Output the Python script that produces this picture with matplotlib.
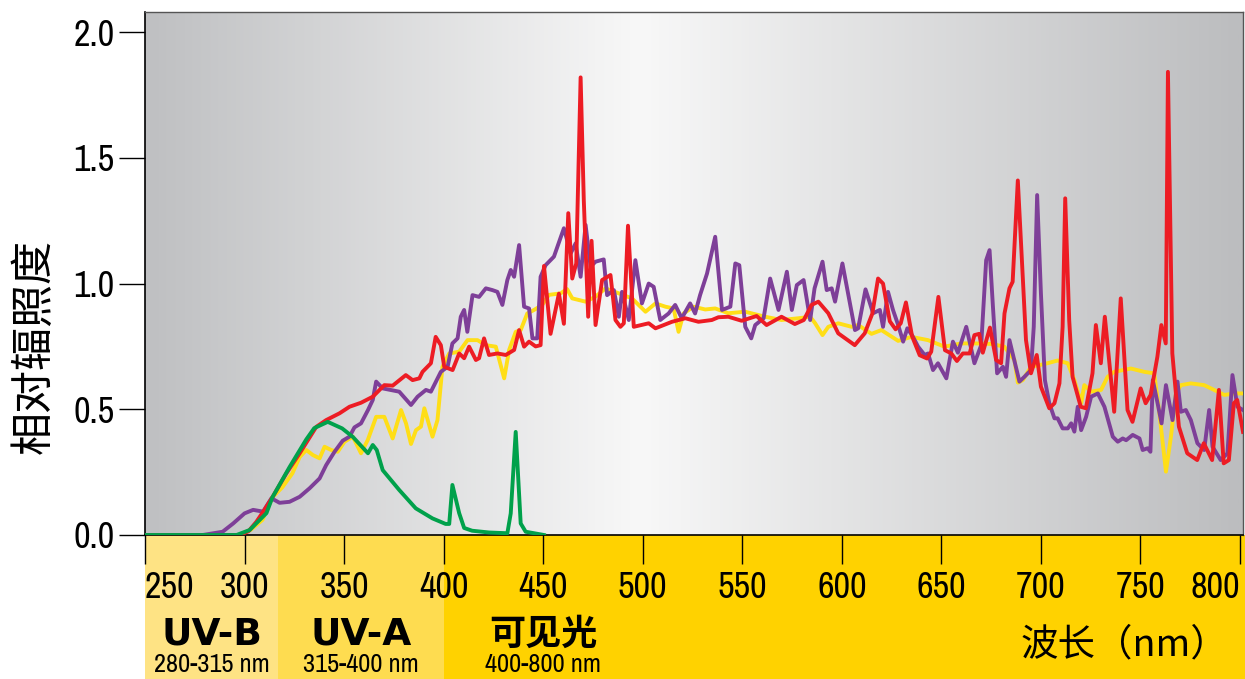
import numpy as np
import matplotlib
matplotlib.use('Agg')
import matplotlib.pyplot as plt
from matplotlib import font_manager as fm
from matplotlib.colors import LinearSegmentedColormap

# data (wavelength nm, relative irradiance)
sun_nm = [250, 297, 303, 309, 314, 319, 324, 327.7, 331, 334.3, 337.7, 340.2, 343.5, 346.8, 350.2, 354.4,
          358.5, 361.9, 366.1, 370.2, 374.4, 378.6, 381.1, 383.6, 386.1, 388.6, 390.3, 394.4, 396.9, 399.4,
          402.8, 407.8, 412, 417, 421.2, 426.2, 430.4, 432.9, 436.2, 438.7, 442, 445.4, 449.5, 452.9, 458.7,
          462, 464.6, 471.3, 476.3, 481.3, 488, 494.6, 501.4, 506.4, 511.4, 515.5, 518, 520.5, 525.5, 531.4,
          536.4, 543, 551.4, 561.5, 569.7, 578.2, 584.1, 586.6, 590.3, 593.2, 598.2, 604.9, 608.2, 614.9,
          619.9, 628.3, 634.9, 643.3, 651.6, 660, 666.6, 675, 681.6, 686.7, 688.4, 690.9, 695, 701.8, 708.4,
          713.5, 716.8, 720.2, 721.8, 725.2, 730.2, 733.5, 736.8, 745.2, 751.9, 756.9, 759.5, 762.8, 765.3,
          767.8, 770.3, 775.3, 782, 787, 792.1, 797.1, 801.5]
sun_val = [0, 0, 0.02, 0.06, 0.15, 0.19, 0.245, 0.31, 0.338, 0.318, 0.305, 0.351, 0.338, 0.331, 0.371, 0.391,
           0.325, 0.378, 0.47, 0.47, 0.384, 0.497, 0.444, 0.362, 0.417, 0.431, 0.504, 0.391, 0.457, 0.669,
           0.722, 0.729, 0.775, 0.775, 0.755, 0.749, 0.623, 0.736, 0.808, 0.815, 0.881, 0.895, 0.915, 0.955, 0.961,
           0.978, 0.941, 0.928, 0.948, 0.981, 0.961, 0.941, 0.888, 0.921, 0.908, 0.901, 0.808, 0.881, 0.908, 0.897,
           0.901, 0.882, 0.888, 0.868, 0.855, 0.862, 0.868, 0.842, 0.795, 0.828, 0.842, 0.828, 0.835, 0.8,
           0.815, 0.772, 0.788, 0.775, 0.749, 0.762, 0.762, 0.76, 0.749, 0.696, 0.606, 0.616, 0.669, 0.68, 0.694,
           0.683, 0.616, 0.524, 0.596, 0.57, 0.577, 0.629, 0.649, 0.662, 0.649, 0.643, 0.484, 0.252, 0.391,
           0.563, 0.596, 0.603, 0.596, 0.577, 0.557, 0.563, 0.563]

red_nm = [250, 297.6, 302, 306, 310, 314, 321, 327.7, 336, 341, 347.7, 352.7, 358.5, 364.4, 370.2, 374.4, 381,
          384.4, 387.8, 389.4, 393.6, 396, 398.6, 400.3, 404.5, 407.8, 410.3, 412.8, 416.2, 417.8, 420.3, 422.8,
          427, 431.2, 435.4, 437.9, 440.4, 442.9, 446.2, 448.7, 450.4, 453.7, 457.9, 460.4, 462.6, 464.6, 466.6,
          468.8, 470.4, 472.6, 474.3, 476.3, 479.6, 483.8, 486.3, 488.8, 490.5, 492.6, 495.5, 503, 506.4, 514.7,
          521.4, 528, 534.7, 538, 543, 549.7, 557.2, 562.2, 569.7, 576.4, 580.9, 584.8, 588.2, 593.2, 598.2,
          606.5, 611.5, 615.3, 618.2, 620.7, 624.1, 627, 629.6, 632.2, 635.3, 639.1, 642.8, 644.9, 648.5, 651.8,
          655, 657.8, 660.8, 664.2, 666.6, 669, 670.8, 674.4, 677.5, 680, 681.7, 684.2, 685.8, 688.4, 692.5,
          695, 697.9, 700, 704.2, 706.8, 709.3, 710.9, 712.2, 714.2, 715.9, 720, 722.6, 725.9, 727.6, 730.1,
          732.1, 736.8, 740.1, 743.5, 746, 750.1, 752.6, 755.1, 758.5, 760.5, 762.7, 763.8, 766, 769.3, 773.5,
          778.5, 781.8, 786, 789.4, 791.8, 794.4, 796.9, 798.6, 801.5]
red_val = [0, 0, 0.015, 0.053, 0.1, 0.15, 0.245, 0.325, 0.43, 0.457, 0.484, 0.51, 0.526, 0.55, 0.596, 0.594, 0.636,
           0.616, 0.623, 0.649, 0.683, 0.788, 0.755, 0.669, 0.656, 0.722, 0.703, 0.749, 0.696, 0.703, 0.782, 0.716,
           0.722, 0.716, 0.736, 0.815, 0.749, 0.769, 0.75, 0.755, 1.07, 0.80, 0.96, 0.84, 1.28, 1.02, 1.08,
           1.82, 1.33, 0.868, 1.17, 0.835, 1.014, 1.034, 0.855, 0.828, 0.842, 1.23, 0.828, 0.842, 0.822, 0.848,
           0.862, 0.848, 0.855, 0.866, 0.868, 0.852, 0.871, 0.835, 0.868, 0.839, 0.855, 0.915, 0.928, 0.882, 0.802,
           0.755, 0.802, 0.88, 1.02, 1.0, 0.85, 0.818, 0.842, 0.925, 0.79, 0.715, 0.702, 0.729, 0.947, 0.735,
           0.722, 0.692, 0.722, 0.722, 0.795, 0.80, 0.725, 0.825, 0.696, 0.683, 0.881, 0.981, 1.007, 1.41, 0.775,
           0.643, 0.716, 0.59, 0.504, 0.524, 0.603, 0.828, 1.339, 0.855, 0.629, 0.51, 0.504, 0.643, 0.835, 0.683,
           0.868, 0.49, 0.941, 0.497, 0.45, 0.583, 0.524, 0.557, 0.709, 0.835, 0.762, 1.842, 0.722, 0.431, 0.325,
           0.298, 0.365, 0.298, 0.577, 0.285, 0.298, 0.524, 0.537, 0.41]

purple_nm = [250, 279, 289, 294.3, 300, 304.3, 309.3, 313.5, 317.6, 322.6, 327.7, 332.7, 337.7, 341, 345.2, 349.3,
             352.7, 355.2, 358.5, 362, 364.4, 366.1, 369.4, 377.7, 383.6, 386.9, 391.1, 393.6, 398.6, 402, 404.4,
             407, 408.6, 410.3, 411.9, 414.5, 417.8, 421.2, 424.5, 427, 429.5, 432, 433.7, 435.4, 437.9, 440.4,
             442.9, 444.6, 447, 448.7, 451.2, 455.4, 460.4, 463.8, 466.3, 468.8, 471.3, 473.8, 476.3, 480.4, 482.1,
             485.5, 488, 489.6, 493, 496.3, 499.6, 503, 505.5, 508.8, 513, 516.3, 519.6, 523.8, 526.3, 528.8, 532.3,
             536.4, 539.8, 544, 546.5, 548.5, 551.5, 554.5, 556.5, 560.7, 564, 568.2, 572.4, 574.9, 577.4, 580.8,
             584.1, 586.3, 590.3, 592.4, 594.9, 596.6, 600.3, 606.6, 608.2, 611.9, 615.7, 619.1, 620.7, 623.2, 625.7,
             628.3, 630.8, 632.9, 635.7, 638.3, 641.6, 643.3, 645.8, 648.3, 652.5, 655.8, 658.3, 662.5, 666.6, 670,
             672.5, 674.2, 675.9, 678, 680.9, 682.5, 684.2, 685.8, 689.2, 691.7, 695, 696.4, 698.1, 700, 702, 704.2,
             706.8, 708.4, 710.9, 713.5, 715.2, 716.8, 718.5, 720.2, 722.7, 725.2, 728.6, 731.9, 736.1, 738.6, 741.1,
             742.8, 746.1, 749.5, 751.1, 753.6, 755, 756.2, 758.6, 760.6, 762.8, 766.1, 768.6, 770.3, 772.8, 775.3,
             778.6, 782, 784.5, 786.2, 790.3, 793.7, 796.2, 798.7, 801.5]
purple_val = [0, 0, 0.013, 0.046, 0.086, 0.1, 0.093, 0.146, 0.128, 0.132, 0.152, 0.186, 0.225, 0.278, 0.331, 0.375,
              0.391, 0.428, 0.444, 0.497, 0.537, 0.61, 0.583, 0.57, 0.517, 0.55, 0.577, 0.57, 0.649, 0.669, 0.762,
              0.782, 0.868, 0.895, 0.808, 0.954, 0.947, 0.981, 0.974, 0.967, 0.915, 1.014, 1.054, 1.027, 1.153, 0.908,
              0.901, 0.782, 0.782, 1.027, 1.073, 1.107, 1.22, 1.12, 1.16, 1.027, 1.233, 1.067, 1.087, 1.096, 0.954,
              0.974, 0.868, 0.967, 0.855, 1.093, 0.921, 1.0, 0.987, 0.855, 0.881, 0.915, 0.862, 0.921, 0.881, 0.954, 1.04,
              1.186, 0.895, 0.908, 1.08, 1.073, 0.828, 0.782, 0.835, 0.862, 1.02, 0.895, 1.047, 0.895, 0.994, 1.014,
              0.855, 0.981, 1.087, 0.974, 0.981, 0.928, 1.08, 0.815, 0.822, 0.977, 0.882, 0.895, 0.828, 0.967, 0.895,
              0.835, 0.769, 0.822, 0.789, 0.749, 0.716, 0.722, 0.656, 0.683, 0.623, 0.769, 0.725, 0.828, 0.683, 0.755,
              1.093, 1.133, 0.908, 0.643, 0.669, 0.629, 0.775, 0.722, 0.61, 0.629, 0.656, 0.828, 1.352, 0.961, 0.616, 0.524,
              0.464, 0.464, 0.424, 0.424, 0.444, 0.411, 0.51, 0.417, 0.47, 0.55, 0.563, 0.51, 0.391, 0.371, 0.384,
              0.377, 0.398, 0.384, 0.338, 0.345, 0.331, 0.616, 0.524, 0.444, 0.596, 0.457, 0.61, 0.49, 0.497, 0.457,
              0.365, 0.338, 0.497, 0.351, 0.298, 0.325, 0.636, 0.51, 0.497]

green_nm = [250, 296, 302.6, 311, 314, 322.6, 331, 335, 341.8, 349, 354.4, 362, 364.4, 366.4, 369.4, 377.7, 386,
            394.4, 401, 402.8, 404.4, 407.8, 410.3, 414.3, 422.8, 432, 433.7, 436.2, 438.7, 441.2, 450.4]
green_val = [0, 0, 0.02, 0.087, 0.15, 0.27, 0.38, 0.425, 0.45, 0.424, 0.39, 0.325, 0.358, 0.338, 0.258, 0.179, 0.106,
             0.066, 0.044, 0.044, 0.199, 0.087, 0.028, 0.017, 0.01, 0.007, 0.086, 0.41, 0.046, 0.013, 0.0]

xticks = [250, 300, 350, 400, 450, 500, 550, 600, 650, 700, 750, 800]
yticks = [0.0, 0.5, 1.0, 1.5, 2.0]

bands = [(250, 317, '#FEE384', 'UV-B', '280-315 nm'),
         (317, 400, '#FEDC50', 'UV-A', '315-400 nm'),
         (400, 810, '#FFD200', '可见光', '400-800 nm')]

# look for an upright narrow face for the numbers
narrow = None
for key in ['Narrow', 'Condensed']:
    for f in fm.fontManager.ttflist:
        if 'CJK' in f.name or f.style != 'normal':
            continue
        if key in f.name or (key == 'Condensed' and f.stretch in ('condensed', 'semi-condensed', 'extra-condensed')):
            if f.weight in (400, 'normal', 'regular', 'book'):
                narrow = f.fname
                break
    if narrow:
        break
num_font = fm.FontProperties(fname=narrow) if narrow else fm.FontProperties(family='DejaVu Sans')
cjk = ['Noto Sans CJK SC', 'DejaVu Sans']

fig = plt.figure(figsize=(12.45, 6.79), dpi=100)
ax = fig.add_axes([145/1245, 1 - 535/679, 1098/1245, 523/679])
ax.set_xlim(250, 801.5)
ax.set_ylim(0, 2.08)

# grey background gradient
bg = LinearSegmentedColormap.from_list('bg', [(0, '#BFC0C2'), (0.45, '#F8F8F8'), (1, '#BCBDBF')])
ax.imshow(np.linspace(0, 1, 600).reshape(1, -1), cmap=bg, aspect='auto',
          extent=[250, 801.5, 0, 2.08], zorder=0)

# yellow bands below the axis
tr = ax.get_xaxis_transform()
for x0, x1, c, name, rng in bands:
    ax.add_patch(plt.Rectangle((x0, -0.3), x1 - x0, 0.3, transform=tr, color=c,
                               clip_on=False, zorder=0, lw=0))

ax.plot(sun_nm, sun_val, color='#FFDE17', lw=2.8, zorder=3)
ax.plot(purple_nm, purple_val, color='#7E3F98', lw=2.8, zorder=4)
ax.plot(red_nm, red_val, color='#ED1C24', lw=2.8, zorder=5)
ax.plot(green_nm, green_val, color='#00A14B', lw=2.8, zorder=6)

ax.set_xticks(xticks)
ax.set_xticklabels([str(t) for t in xticks])
ax.set_yticks(yticks)
ax.set_yticklabels(['%.1f' % t for t in yticks])
for t in ax.get_xticklabels() + ax.get_yticklabels():
    t.set_fontproperties(num_font)
    t.set_fontsize(26 if narrow else 19)
ax.tick_params(axis='x', direction='out', length=21, width=1, pad=5)
ax.tick_params(axis='y', direction='out', length=19, width=1, pad=3)
lbls = ax.get_xticklabels()
lbls[0].set_ha('left')
lbls[-1].set_ha('right')

for s in ['left', 'bottom']:
    ax.spines[s].set_color('black')
    ax.spines[s].set_linewidth(1.2)
for s in ['top', 'right']:
    ax.spines[s].set_color('#555555')
    ax.spines[s].set_linewidth(1.0)

for x0, x1, c, name, rng in bands[:2]:
    xc = (x0 + x1) / 2
    ax.text(xc, -0.19, name, transform=tr, ha='center', va='center',
            fontsize=27, fontweight='bold', family=['DejaVu Sans'])
    ax.text(xc, -0.247, rng, transform=tr, ha='center', va='center',
            fontproperties=num_font, fontsize=19 if narrow else 14)
ax.text(450, -0.19, '可见光', transform=tr, ha='center', va='center',
        fontsize=26, fontweight='bold', family=cjk)
ax.text(450, -0.247, '400-800 nm', transform=tr, ha='center', va='center',
        fontproperties=num_font, fontsize=19 if narrow else 14)
ax.text(742, -0.21, '波长（nm）', transform=tr, ha='center', va='center',
        fontsize=27, family=cjk)

fig.text(35/1245, 1 - 346/679, '相对辐照度', rotation=90, ha='center', va='center',
         fontsize=31, family=cjk)

fig.savefig('out.png', dpi=100)
